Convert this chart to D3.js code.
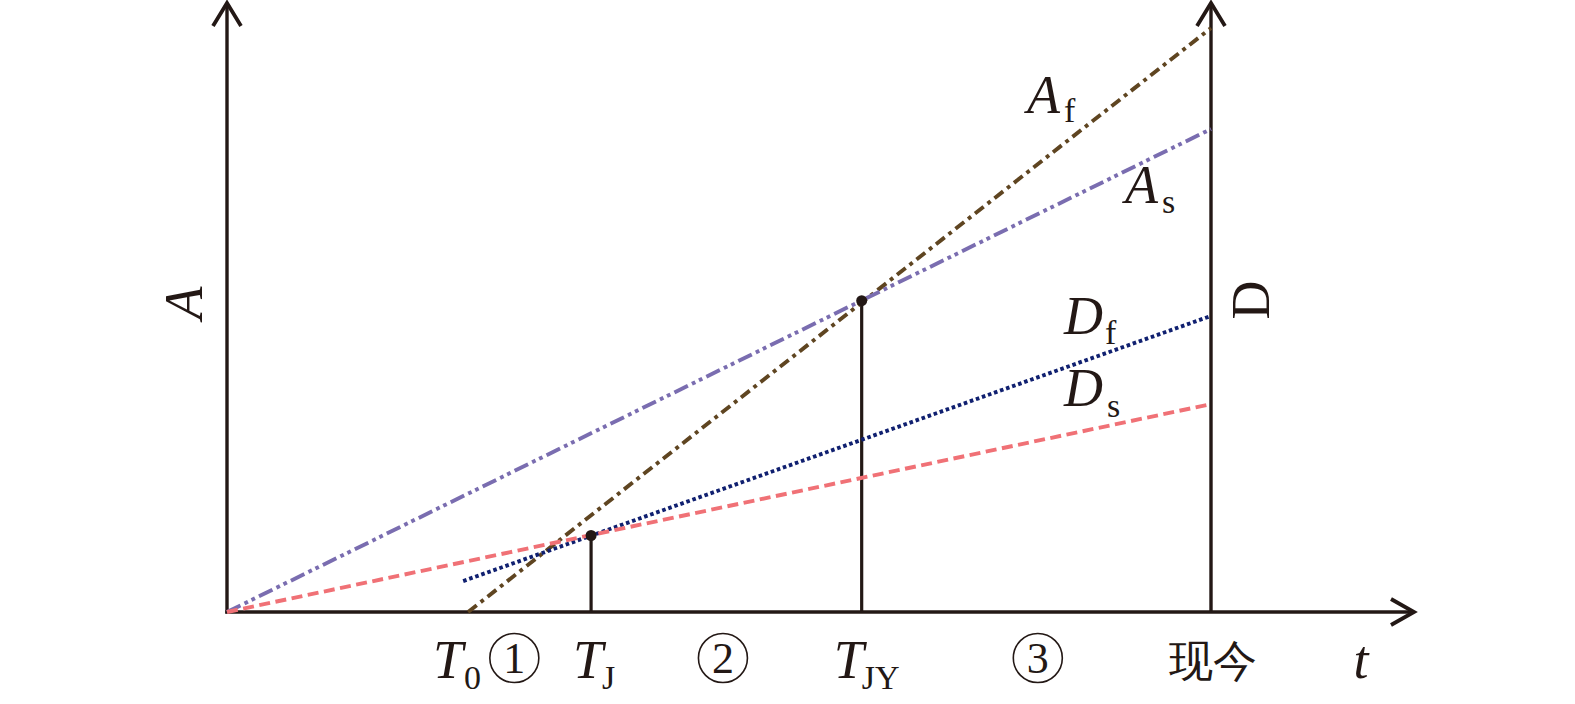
<!DOCTYPE html>
<html>
<head>
<meta charset="utf-8">
<script src="https://cdn.jsdelivr.net/npm/d3@7"></script>
<style>
  body { margin: 0; background: #fff; }
  text { font-family: "Liberation Serif", "Times New Roman", serif; fill: #231815; }
</style>
</head>
<body>
<div id="chart"></div>
<script>
const WIDTH = 1575;
const HEIGHT = 704;
const AXIS_COLOR = "#231815";

// --------------- data ---------------
// time positions on the t axis (now = 100)
const tickNames = ["T0", "TJ", "TJY", "now"];
const tickValues = [24.5, 37.0, 64.5, 100];
// stages ①②③ between the ticks
const stageLabels = ["1", "2", "3"];
const stageValues = [29.2, 50.4, 82.4];

// line series: [t, A] end points
const seriesNames = ["Af", "As", "Df", "Ds"];
const seriesAf = [[24.5, 0], [100, 100]];
const seriesAs = [[0, 0], [100, 82.7]];
const seriesDf = [[24.0, 5.3], [100, 50.7]];
const seriesDs = [[0, 0], [100, 35.6]];

// intersection markers
const markers = [[37.0, 13.1], [64.5, 53.3]];

// --------------- scales ---------------
const x = d3.scaleLinear().domain([0, 100]).range([227, 1211]);
const y = d3.scaleLinear().domain([0, 100]).range([612, 28]);

const svg = d3.select("#chart").append("svg")
  .attr("width", WIDTH)
  .attr("height", HEIGHT);

const line = d3.line().x(d => x(d[0])).y(d => y(d[1]));

const styles = {
  Af: { data: seriesAf, color: "#5f4521", dash: "11,5,3.8,5" },
  As: { data: seriesAs, color: "#7a6db0", dash: "15,4.5,3.8,4,3.8,4.5" },
  Df: { data: seriesDf, color: "#102070", dash: "3.6,2.8" },
  Ds: { data: seriesDs, color: "#f07176", dash: "11,5.5" }
};

// --------------- axes ---------------
const axisG = svg.append("g")
  .attr("stroke", AXIS_COLOR)
  .attr("stroke-width", 3.4)
  .attr("fill", "none");

const x0 = x(0), y0 = y(0), xNow = x(100);
const topY = 3, rightX = 1414;

// left axis
axisG.append("line").attr("x1", x0).attr("y1", y0 + 1.5).attr("x2", x0).attr("y2", topY);
axisG.append("path").attr("d", `M${x0 - 14},${topY + 23}L${x0},${topY}L${x0 + 14},${topY + 23}`)
  .attr("stroke-width", 3.8);
// right axis (now)
axisG.append("line").attr("x1", xNow).attr("y1", y0).attr("x2", xNow).attr("y2", topY);
axisG.append("path").attr("d", `M${xNow - 14},${topY + 23}L${xNow},${topY}L${xNow + 14},${topY + 23}`)
  .attr("stroke-width", 3.8);
// bottom axis
axisG.append("line").attr("x1", x0 - 1.7).attr("y1", y0).attr("x2", rightX).attr("y2", y0);
axisG.append("path").attr("d", `M${rightX - 23},${y0 - 13}L${rightX},${y0}L${rightX - 23},${y0 + 13}`)
  .attr("stroke-width", 3.8);

// drop lines at TJ and TJY
svg.append("g").selectAll("line")
  .data(markers)
  .enter()
  .append("line")
  .attr("x1", d => x(d[0]))
  .attr("x2", d => x(d[0]))
  .attr("y1", y0)
  .attr("y2", d => y(d[1]))
  .attr("stroke", AXIS_COLOR)
  .attr("stroke-width", 3.2);

// --------------- series ---------------
svg.append("g").selectAll("path")
  .data(seriesNames)
  .enter()
  .append("path")
  .attr("d", k => line(styles[k].data))
  .attr("fill", "none")
  .attr("stroke", k => styles[k].color)
  .attr("stroke-width", 3.9)
  .attr("stroke-dasharray", k => styles[k].dash);

svg.append("g").selectAll("circle")
  .data(markers)
  .enter()
  .append("circle")
  .attr("cx", d => x(d[0]))
  .attr("cy", d => y(d[1]))
  .attr("r", 5.5)
  .attr("fill", AXIS_COLOR);

// --------------- labels ---------------
const BIG = 54, SUB = 34;

function subLabel(px, py, main, sub, sx, sy) {
  const t = svg.append("text").attr("x", px).attr("y", py)
    .attr("font-size", BIG);
  t.append("tspan").text(main).attr("font-style", "italic");
  t.append("tspan").text(sub).attr("font-size", SUB)
    .attr("x", sx).attr("y", sy);
}

// series labels
subLabel(1027, 113, "A", "f", 1064, 122);
subLabel(1125, 203, "A", "s", 1162, 213);
subLabel(1064, 334, "D", "f", 1105, 344);
subLabel(1064, 406, "D", "s", 1107, 417);

// t axis labels
subLabel(x(tickValues[0]) - 35, 678, "T", "0", x(tickValues[0]) - 4, 689);
subLabel(x(tickValues[1]) - 18, 678, "T", "J", x(tickValues[1]) + 11, 689);
subLabel(x(tickValues[2]) - 28, 678, "T", "JY", x(tickValues[2]), 689);

// stage markers: digit in a circle
const stages = svg.append("g").selectAll("g")
  .data(stageLabels)
  .enter()
  .append("g")
  .attr("transform", (d, i) => `translate(${x(stageValues[i])},658)`);
stages.append("circle")
  .attr("r", 24.5)
  .attr("fill", "none")
  .attr("stroke", AXIS_COLOR)
  .attr("stroke-width", 1.6);
stages.append("text")
  .attr("text-anchor", "middle")
  .attr("y", 15)
  .attr("font-size", 44)
  .text(d => d);

svg.append("text")
  .attr("x", x(tickValues[3]) + 2)
  .attr("y", 676)
  .attr("text-anchor", "middle")
  .attr("font-family", "Noto Sans CJK SC")
  .attr("font-size", 44)
  .text("现今");

svg.append("text")
  .attr("x", 1361)
  .attr("y", 678)
  .attr("text-anchor", "middle")
  .attr("font-style", "italic")
  .attr("font-size", BIG)
  .text("t");

// axis titles (rotated)
svg.append("text")
  .attr("transform", "translate(202,303) rotate(-90)")
  .attr("text-anchor", "middle")
  .attr("font-style", "italic")
  .attr("font-size", BIG)
  .text("A");

svg.append("text")
  .attr("transform", "translate(1269,300) rotate(-90)")
  .attr("text-anchor", "middle")
  .attr("font-size", BIG)
  .text("D");
</script>
</body>
</html>
